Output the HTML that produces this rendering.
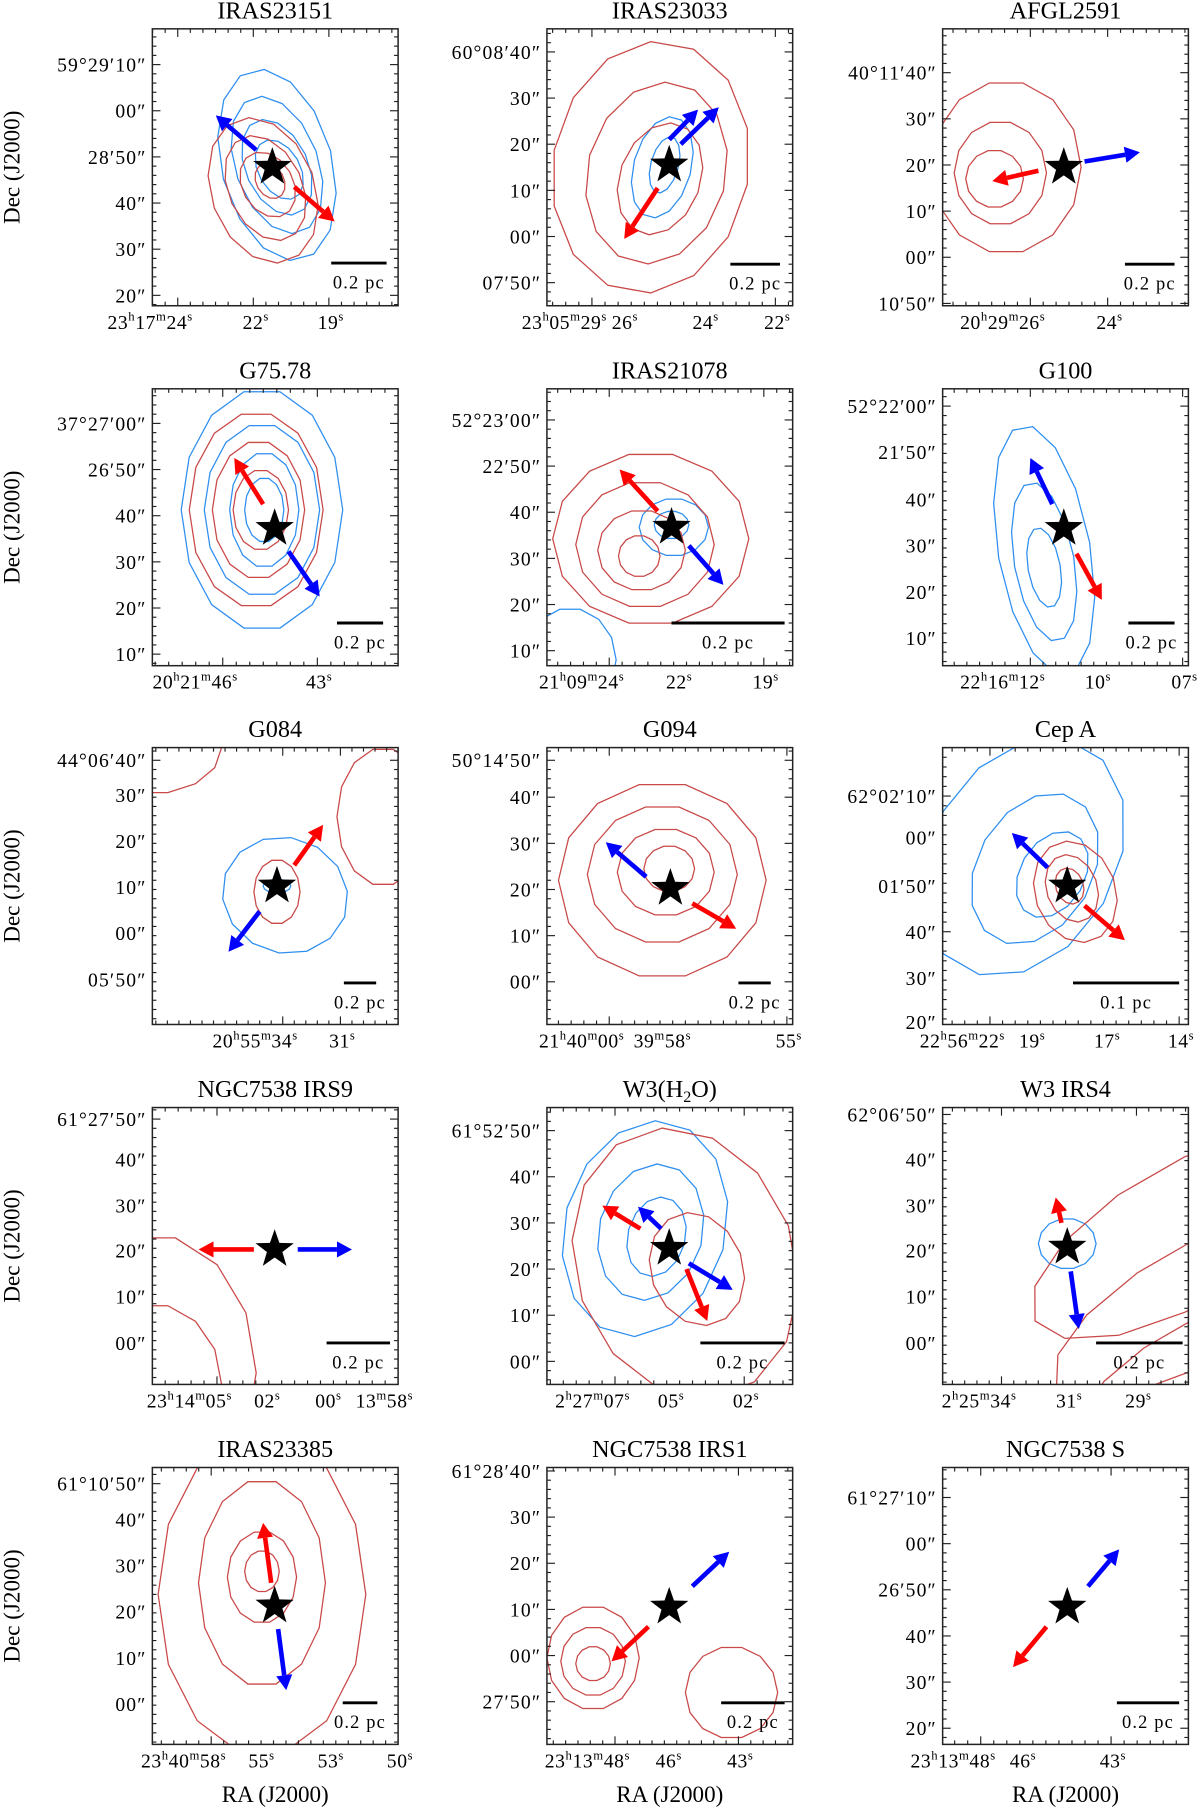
<!DOCTYPE html>
<html><head><meta charset="utf-8"><style>
html,body{margin:0;padding:0;background:#fff;}
svg{display:block;font-family:"Liberation Serif","DejaVu Serif",serif;}
</style></head><body>
<svg id="fig" width="1200" height="1809" viewBox="0 0 1040 1568" xmlns="http://www.w3.org/2000/svg"></svg>
<script>
const titles=["IRAS23151","IRAS23033","AFGL2591","G75.78","IRAS21078","G100","G084","G094","Cep A","NGC7538 IRS9","W3(H2O)","W3 IRS4","IRAS23385","NGC7538 IRS1","NGC7538 S"];
const yTickPos=[[31,71,111,151,191,231],[20,60,100,140,180,220],[38,78,118,158,198,238],[30,70,110,150,190,230],[27,67,107,147,187,227],[15,55,96,136,176,216],[11,41,81,121,161,201],[11,43,83,123,163,203],[42,78,120,160,200,238],[10,45,85,124,164,204],[20,60,100,140,180,220],[6,45,85,124,164,204],[14,45,85,125,165,205],[3,43,83,123,163,203],[26,66,106,146,186,226]];
const yTickLab=[["59°29′10″","00″","28′50″","40″","30″","20″"],["60°08′40″","30″","20″","10″","00″","07′50″"],["40°11′40″","30″","20″","10″","00″","10′50″"],["37°27′00″","26′50″","40″","30″","20″","10″"],["52°23′00″","22′50″","40″","30″","20″","10″"],["52°22′00″","21′50″","40″","30″","20″","10″"],["44°06′40″","30″","20″","10″","00″","05′50″"],["50°14′50″","40″","30″","20″","10″","00″"],["62°02′10″","00″","01′50″","40″","30″","20″"],["61°27′50″","40″","30″","20″","10″","00″"],["61°52′50″","40″","30″","20″","10″","00″"],["62°06′50″","40″","30″","20″","10″","00″"],["61°10′50″","40″","30″","20″","10″","00″"],["61°28′40″","30″","20″","10″","00″","27′50″"],["61°27′10″","00″","26′50″","40″","30″","20″"]];
const xTickPos=[[22,88,153],[39,66,136,198],[76,143],[61,143],[54,113,188],[76,133,208],[113,163],[54,112,208],[41,76,141,205],[56,98,151,213],[59,106,171],[51,108,168],[51,93,153,213],[59,104,166],[33,68,146]];
const xTickLab=[["23h17m24s","22s","19s"],["23h05m29s","26s","24s","22s"],["20h29m26s","24s"],["20h21m46s","43s"],["21h09m24s","22s","19s"],["22h16m12s","10s","07s"],["20h55m34s","31s"],["21h40m00s","39m58s","55s"],["22h56m22s","19s","17s","14s"],["23h14m05s","02s","00s","13m58s"],["2h27m07s","05s","02s"],["2h25m34s","31s","29s"],["23h40m58s","55s","53s","50s"],["23h13m48s","46s","43s"],["23h13m48s","46s","43s"]];
const starPos=[[104,120],[106,118],[105,120],[106,121],[108,120],[105,121],[108,120],[107,122],[108,120],[106,123],[106,122],[108,121],[106,120],[106,121],[108,121]];
const arrowsBlue=[[[90,105,55,75]],[[116,100,149,68],[106,96,131,70]],[[123,115,171,107]],[[118,141,145,180]],[[123,136,153,170]],[[95,100,76,60]],[[93,142,66,177]],[[86,112,51,82]],[[91,104,60,74]],[[126,123,173,123]],[[99,105,79,86],[123,135,161,158]],[[111,142,118,192]],[[109,140,116,193]],[[126,103,158,73]],[[126,103,153,71]]];
const arrowsRed=[[[123,137,158,167]],[[96,138,67,182]],[[83,123,43,132]],[[96,100,71,60]],[[96,106,63,70]],[[116,143,138,183]],[[123,102,148,67]],[[126,135,164,157]],[[123,137,158,167]],[[88,123,40,123]],[[81,105,48,85],[121,140,139,185]],[[103,100,98,78]],[[103,100,96,48]],[[88,138,56,168]],[[90,138,61,173]]];
const contBlue=[[[108,118,48,85,-15],[108,118,36,62,-20],[108,120,27,44,-25],[110,122,18,28,-30]],[[100,120,25,45,15],[102,118,12,25,15]],[],[[95,105,70,105,0],[95,105,50,75,0],[97,105,30,50,0],[97,105,17,28,0]],[[110,120,30,25,0],[108,118,15,12,0],[20,235,40,45,0]],[[88,140,40,110,-10],[88,150,26,70,-10],[88,155,14,35,-10]],[[115,128,55,50,20],[108,120,12,6,0]],[],[[70,95,80,110,30],[80,105,50,70,30],[95,110,28,40,30]],[],[[85,105,70,95,15],[90,108,45,60,15],[95,112,25,35,15]],[[108,118,25,22,0]],[],[],[]];
const contRed=[[[96,140,45,65,-20],[98,138,32,48,-25],[100,135,22,30,-30],[102,132,12,16,-30]],[[90,120,85,110,10],[95,125,60,80,15],[98,130,35,50,20]],[[55,120,65,75,0],[50,125,40,45,0],[45,130,25,25,0]],[[90,105,58,85,0],[92,105,40,60,0],[94,105,24,35,0]],[[90,130,85,75,0],[85,135,60,55,0],[82,140,38,35,0],[80,145,18,18,0]],[],[[108,125,20,28,0],[0,0,60,40,0],[200,60,40,60,0]],[[100,115,90,85,0],[100,110,65,60,0],[103,108,42,38,0],[106,105,22,20,0]],[[115,125,35,45,-20],[112,122,22,30,-20],[110,120,12,16,-20]],[[0,230,90,120,0],[0,240,60,70,0]],[[120,135,95,120,-20],[130,140,40,50,-20]],[[210,110,150,60,-30],[220,170,140,50,-30],[215,230,110,40,-30]],[[95,110,90,140,0],[95,100,55,90,0],[95,95,30,40,0],[95,90,15,18,0]],[[40,165,40,45,0],[40,168,28,30,0],[40,170,15,15,0],[160,195,40,40,0]],[]];
const scaleBars=[[155,203,203,"0.2 pc"],[159,202,204,"0.2 pc"],[158,201,204,"0.2 pc"],[160,200,203,"0.2 pc"],[108,206,203,"0.2 pc"],[161,201,203,"0.2 pc"],[166,194,204,"0.2 pc"],[166,194,204,"0.2 pc"],[113,205,204,"0.1 pc"],[151,206,204,"0.2 pc"],[133,206,204,"0.2 pc"],[133,208,204,"0.2 pc"],[165,195,204,"0.2 pc"],[151,206,204,"0.2 pc"],[151,205,204,"0.2 pc"]];

const colLeft=[132,474,817], rowTop=[25,337,648,960,1272], W=213, H=240;
const NS="http://www.w3.org/2000/svg";
const svg=document.getElementById('fig');
function mk(tag,attrs,parent){const e=document.createElementNS(NS,tag);for(const k in attrs)e.setAttribute(k,attrs[k]);(parent||svg).appendChild(e);return e;}
function xS(p,x){return colLeft[p%3]+x;}
function yS(p,y){return rowTop[Math.floor(p/3)]+y;}
function raFmt(s){return s.replace(/(\d)([hms])/g,'$1<tspan dy="-7" font-size="11">$2</tspan><tspan dy="7">\u200b</tspan>');}

for(let p=0;p<15;p++){
  const L=colLeft[p%3], T=rowTop[Math.floor(p/3)];
  const g=mk('g',{});
  
  
  const cp=mk('clipPath',{id:'cp'+p},g);
  mk('rect',{x:L,y:T,width:W,height:H},cp);
  const t=mk('text',{x:L+W/2,y:T-9,'text-anchor':'middle','font-size':21},g);
  
  
  t.innerHTML=titles[p].replace('H2O','H<tspan font-size="14" dy="4">2</tspan><tspan dy="-4">O</tspan>');
  const cg=mk('g',{'clip-path':'url(#cp'+p+')',fill:'none','stroke-width':1.1},g);
  [[contBlue[p],'#2f8ff0'],[contRed[p],'#c94848']].forEach(([arr,col])=>{
    arr.forEach(c=>{
      const [cx,cy,rx,ry,rot]=c, a=rot*Math.PI/180, pts=[];
      for(let i=0;i<14;i++){const th=i/14*2*Math.PI;const ex=rx*Math.cos(th),ey=ry*Math.sin(th);
        pts.push((xS(p,cx+ex*Math.cos(a)-ey*Math.sin(a))).toFixed(1)+','+(yS(p,cy+ex*Math.sin(a)+ey*Math.cos(a))).toFixed(1));}
      const pg=mk('polygon',{points:pts.join(' '),stroke:col},cg);
      
      
    });
  });
  const fr=mk('rect',{x:L,y:T,width:W,height:H,fill:'none',stroke:'#222','stroke-width':1.3},g);
  
  
  const yp=yTickPos[p], dy=yp[2]-yp[1];
  for(let y=yp[0]-dy;y<=H+dy;y+=dy/5){ if(y<0||y>H)continue;
    const maj=yp.some(v=>Math.abs(v-y)<0.5), len=maj?7:3.5;
    mk('line',{x1:L,x2:L+len,y1:T+y,y2:T+y,stroke:'#222','stroke-width':1},g);
    mk('line',{x1:L+W,x2:L+W-len,y1:T+y,y2:T+y,stroke:'#222','stroke-width':1},g);}
  yp.forEach((y,i)=>{const tx=mk('text',{x:L-5,y:T+y+6,'text-anchor':'end','font-size':17,'letter-spacing':1},g);
    
    
    tx.textContent=yTickLab[p][i];});
  const xp=xTickPos[p], dx=(xp[xp.length-1]-xp[0])/Math.max(1,Math.round((xp[xp.length-1]-xp[0])/11));
  for(let x=xp[0]-dx*20;x<=W;x+=dx){ if(x<0)continue;
    const maj=xp.some(v=>Math.abs(v-x)<1), len=maj?7:3.5;
    mk('line',{x1:L+x,x2:L+x,y1:T+H,y2:T+H-len,stroke:'#222','stroke-width':1},g);
    mk('line',{x1:L+x,x2:L+x,y1:T,y2:T+len,stroke:'#222','stroke-width':1},g);}
  xp.forEach((x,i)=>{const tx=mk('text',{x:L+x+13,y:T+H+20,'text-anchor':'end','font-size':17,'letter-spacing':0.5},g);
    
    
    tx.innerHTML=raFmt(xTickLab[p][i]);});
  const sb=scaleBars[p];
  const sl=mk('line',{x1:L+sb[0],x2:L+sb[1],y1:T+sb[2],y2:T+sb[2],stroke:'#000','stroke-width':2.5},g);
  
  
  const st=mk('text',{x:L+(sb[0]+sb[1])/2,y:T+sb[2]+22,'text-anchor':'middle','font-size':16,'letter-spacing':1},g);
  
  
  st.textContent=sb[3];
  [[arrowsBlue[p],'#0000ff','blue-outflow-arrow'],[arrowsRed[p],'#ff0000','red-outflow-arrow']].forEach(([arr,col,nm])=>{
    arr.forEach(a=>{
      const x0=xS(p,a[0]),y0=yS(p,a[1]),x1=xS(p,a[2]),y1=yS(p,a[3]);
      const ang=Math.atan2(y1-y0,x1-x0), hl=13, hw=7;
      const bx=x1-hl*Math.cos(ang), by=y1-hl*Math.sin(ang);
      const ag=mk('g',{},g);
      
      
      mk('line',{x1:x0,y1:y0,x2:bx,y2:by,stroke:col,'stroke-width':4},ag);
      mk('polygon',{points:`${x1},${y1} ${bx-hw*Math.sin(ang)},${by+hw*Math.cos(ang)} ${bx+hw*Math.sin(ang)},${by-hw*Math.cos(ang)}`,fill:col},ag);
    });
  });
  const [sx,sy]=starPos[p], pts=[];
  for(let i=0;i<10;i++){const r=i%2?7:17.5, th=-Math.PI/2+i*Math.PI/5;pts.push((xS(p,sx)+r*Math.cos(th)).toFixed(1)+','+(yS(p,sy)+r*Math.sin(th)).toFixed(1));}
  const sp=mk('polygon',{points:pts.join(' '),fill:'#000'},g);
  
  
}
for(let r=0;r<5;r++){
  const t=mk('text',{x:0,y:0,'text-anchor':'middle','font-size':20,transform:`translate(17,${rowTop[r]+H/2}) rotate(-90)`});
  
  
  t.textContent='Dec (J2000)';
}
for(let c=0;c<3;c++){
  const t=mk('text',{x:colLeft[c]+W/2,y:1562,'text-anchor':'middle','font-size':20});
  
  
  t.textContent='RA (J2000)';
}
</script>
</body></html>
